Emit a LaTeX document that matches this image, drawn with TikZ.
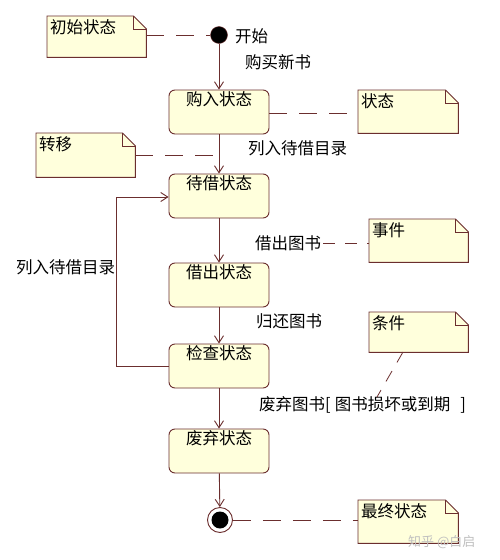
\documentclass[tikz,border=0pt]{standalone}
\usepackage{fontspec}
\newfontfamily\cjk{Noto Sans CJK SC}
\usetikzlibrary{arrows.meta,backgrounds}
\definecolor{fillY}{HTML}{FFFFDC}
\definecolor{edgeC}{HTML}{6B2E2E}
\newcommand\foldnote[1]{%
  \begin{pgfonlayer}{background}
  \draw[edgeC, fill=fillY, line width=0.9pt] (#1.north west) -- ([xshift=-13pt]#1.north east) -- ([yshift=-13pt]#1.north east) -- (#1.south east) -- (#1.south west) -- cycle;
  \draw[edgeC, line width=0.8pt] ([xshift=-13pt]#1.north east) -- ([xshift=-13pt,yshift=-13pt]#1.north east) -- ([yshift=-13pt]#1.north east);
  \end{pgfonlayer}}
\begin{document}
\begin{tikzpicture}[x=1pt,y=-1pt,
  font=\cjk\fontsize{16.5}{19}\selectfont,
  state/.style={draw=edgeC, fill=fillY, rounded corners=6pt, minimum width=100pt, minimum height=44pt, inner sep=0pt, line width=0.9pt},
  notearea/.style={minimum width=#1, minimum height=43pt, inner sep=0pt, anchor=north west},
  notetext/.style={anchor=north west, inner sep=0pt},
  stext/.style={anchor=north, inner sep=0pt},
  lbl/.style={anchor=west, inner sep=0pt},
  arr/.style={draw=edgeC, line width=0.9pt, -{Straight Barb[length=7pt,width=9pt]}},
  dashln/.style={draw=edgeC, line width=0.9pt, dash pattern=on 18pt off 12pt},
  dashlnb/.style={draw=edgeC, line width=0.8pt, dash pattern=on 12pt off 10pt}]
\useasboundingbox (0,0) rectangle (500,560);
\begin{pgfonlayer}{background}
\fill[white] (0,0) rectangle (500,560);
\end{pgfonlayer}

% notes
\node[notearea=99pt, minimum height=41pt] (n1) at (47,16) {};
\foldnote{n1}
\node[notetext] (n1t) at ([xshift=3pt,yshift=-3pt]n1.north west) {初始状态};

\node[notearea=100pt] (n2) at (358,90) {};
\foldnote{n2}
\node[notetext] (n2t) at ([xshift=3pt,yshift=-3pt]n2.north west) {状态};

\node[notearea=99pt, minimum height=44pt] (n3) at (36,133) {};
\foldnote{n3}
\node[notetext] (n3t) at ([xshift=3pt,yshift=-3pt]n3.north west) {转移};

\node[notearea=99pt] (n4) at (369,219) {};
\foldnote{n4}
\node[notetext] (n4t) at ([xshift=3pt,yshift=-3pt]n4.north west) {事件};

\node[notearea=99pt, minimum height=40pt] (n5) at (369,312) {};
\foldnote{n5}
\node[notetext] (n5t) at ([xshift=3pt,yshift=-3pt]n5.north west) {条件};

\node[notearea=100pt] (n6) at (358,500) {};
\foldnote{n6}
\node[notetext] (n6t) at ([xshift=3pt,yshift=-3pt]n6.north west) {最终状态};

% states
\node[circle, fill=black, draw=edgeC, minimum size=17pt, inner sep=0pt] (start) at (219,35) {};
\node[state] (b1) at (219,112) {};
\node[stext] at ([yshift=-2pt]b1.north) {购入状态};
\node[state] (b2) at (219,196) {};
\node[stext] at ([yshift=-2pt]b2.north) {待借状态};
\node[state] (b3) at (219,285) {};
\node[stext] at ([yshift=-2pt]b3.north) {借出状态};
\node[state] (b4) at (219,366) {};
\node[stext] at ([yshift=-2pt]b4.north) {检查状态};
\node[state] (b5) at (219,451) {};
\node[stext] at ([yshift=-2pt]b5.north) {废弃状态};
\node[circle, fill=white, draw=edgeC, line width=0.9pt, minimum size=25pt, inner sep=0pt] (end) at (220,520) {};
\node[circle, fill=black, minimum size=17pt, inner sep=0pt] (endin) at (end) {};

% labels
\node[lbl] (l0) at (235,36) {开始};
\node[lbl] (l1) at (245,62) {购买新书};
\node[lbl] (l2) at (248,148) {列入待借目录};
\node[lbl] (l3) at (255,243) {借出图书};
\node[lbl] (l4) at (256,321) {归还图书};
\node[lbl] (l5) at (259,405) {废弃图书[\hspace{4pt}图书损坏或到期\hspace{10pt}]};
\node[lbl] (l6) at (16,267) {列入待借目录};

% transitions
\draw[arr] (start) -- (b1);
\draw[arr] (b1) -- (b2);
\draw[arr] (b2) -- (b3);
\draw[arr] (b3) -- (b4);
\draw[arr] (b4) -- (b5);
\draw[arr] (b5) -- (end);
\draw[arr] (b4.west) -- (116,366) -- (116,197) -- (b2.west |- 0,197);

% note links
\draw[dashln] (n1.east |- start) -- (start);
\draw[dashln] (b1.east |- 0,113) -- (n2.west |- 0,113);
\coordinate (n3e) at (219,155);
\draw[dashln] (n3.east |- n3e) -- (n3e);
\draw[dashlnb] ([xshift=2pt]l3.east) -- (n4.west |- l3.east);
\coordinate (l5p) at (377,397);
\draw[dashlnb] (403,352) -- (l5p);
\draw[dashln] (end) -- (n6.west |- end);

% watermark
\node[lbl, text=black!25, font=\cjk\fontsize{13}{15}\selectfont] (wm) at (408,542) {知乎 @白启};
\end{tikzpicture}
\end{document}
